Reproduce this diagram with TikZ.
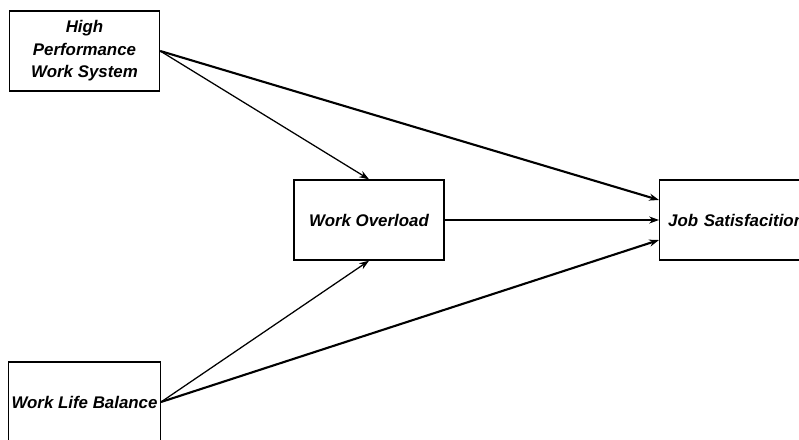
\documentclass[tikz,border=0pt]{standalone}
\usepackage{fontspec}
\setmainfont{Liberation Sans}
\usepackage{tikz}
\usetikzlibrary{calc}
\usetikzlibrary{arrows.meta}

\tikzset{
    kotak/.style={draw, line width=1pt, minimum width=3.75cm, minimum height=2cm, align=center, font=\fontsize{12}{16}\selectfont\bfseries\itshape, inner sep=2pt},
    panah/.style={line width=0.9pt, -{Stealth[length=7pt,width=5pt]}},
    panahtebal/.style={line width=1.5pt, -{Stealth[length=7pt,width=5pt]}}
}

\begin{document}
\begin{tikzpicture}[x=0.025cm, y=-0.025cm]
        %BATAS
        \useasboundingbox (0,0) rectangle (799,439);
        \clip (0,0) rectangle (799,439);
        %KOTAK
        \node[kotak] (hpws) at (84.5,51) {High\\Performance\\Work System};
        \node[kotak] (wo) at (369,220) {Work Overload};
        \node[kotak, anchor=west, align=left, text width=5cm, inner sep=6pt] (js) at (659,220) {Job Satisfacition};
        \node[kotak] (wlb) at (84.5,402) {Work Life Balance};
        %GARIS
        \draw[panah] (hpws.east) -- (wo.north);
        \draw[panahtebal] (hpws.east) -- ([yshift=0.5cm]js.west);
        \draw[panah] (wo.east) -- (js.west);
        \draw[panah] (wlb.east) -- (wo.south);
        \draw[panahtebal] (wlb.east) -- ([yshift=-0.5cm]js.west);
    \end{tikzpicture}
\end{document}
